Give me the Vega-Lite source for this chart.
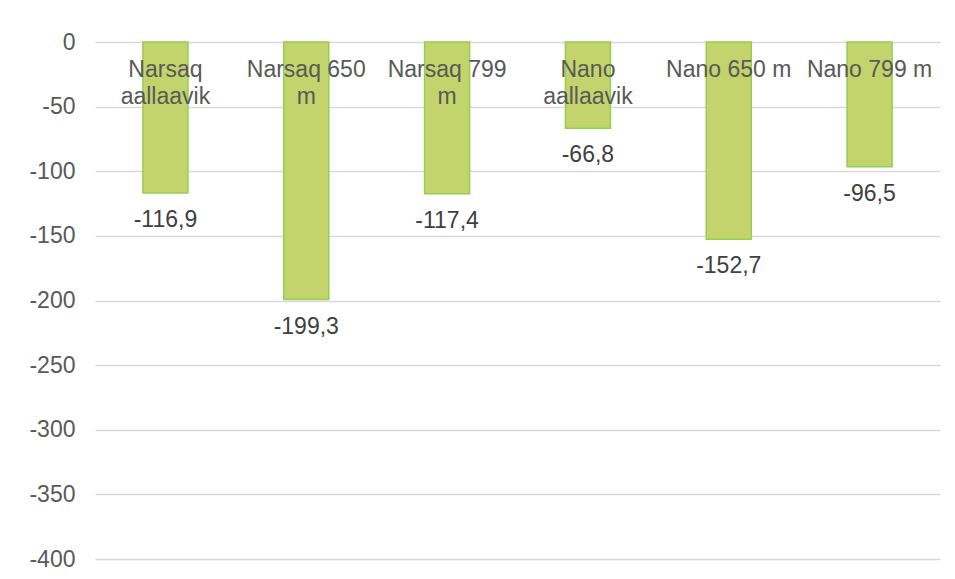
{
  "$schema": "https://vega.github.io/schema/vega-lite/v6.json",
  "width": 845,
  "height": 517,
  "autosize": "none",
  "padding": {"left": 95, "top": 42, "right": 15, "bottom": 20},
  "background": "white",
  "data": {
    "values": [
      {"cat": "Narsaq aallaavik", "label": "Narsaq\naallaavik", "value": -116.9},
      {"cat": "Narsaq 650 m", "label": "Narsaq 650\nm", "value": -199.3},
      {"cat": "Narsaq 799 m", "label": "Narsaq 799\nm", "value": -117.4},
      {"cat": "Nano aallaavik", "label": "Nano\naallaavik", "value": -66.8},
      {"cat": "Nano 650 m", "label": "Nano 650 m", "value": -152.7},
      {"cat": "Nano 799 m", "label": "Nano 799 m", "value": -96.5}
    ]
  },
  "encoding": {
    "x": {
      "field": "cat",
      "type": "nominal",
      "sort": null,
      "axis": null,
      "scale": {"paddingInner": 0, "paddingOuter": 0}
    }
  },
  "layer": [
    {
      "mark": {"type": "bar", "size": 45, "fill": "#C4D46C", "stroke": "#92D050", "strokeWidth": 1.5},
      "encoding": {
        "y": {
          "field": "value",
          "type": "quantitative",
          "scale": {"domain": [-400, 0], "nice": false},
          "axis": {
            "values": [0, -50, -100, -150, -200, -250, -300, -350, -400],
            "ticks": false,
            "domain": false,
            "title": null,
            "labelPadding": 20,
            "labelFontSize": 23,
            "labelColor": "#595959",
            "labelFont": "Liberation Sans",
            "gridColor": "#D9D9D9",
            "gridWidth": 1.3
          }
        }
      }
    },
    {
      "mark": {"type": "text", "baseline": "middle", "dy": 27, "fontSize": 23, "color": "#404040", "font": "Liberation Sans"},
      "encoding": {
        "y": {"field": "value", "type": "quantitative"},
        "text": {"field": "value", "type": "quantitative", "format": ".1f"}
      }
    },
    {
      "mark": {"type": "text", "baseline": "alphabetic", "dy": 35, "lineBreak": "\n", "lineHeight": 27, "fontSize": 23, "color": "#595959", "font": "Liberation Sans"},
      "encoding": {
        "y": {"datum": 0, "type": "quantitative"},
        "text": {"field": "label", "type": "nominal"}
      }
    }
  ],
  "config": {
    "view": {"stroke": null},
    "locale": {
      "number": {"decimal": ",", "thousands": " ", "grouping": [3], "currency": ["", ""], "minus": "-"}
    }
  }
}
